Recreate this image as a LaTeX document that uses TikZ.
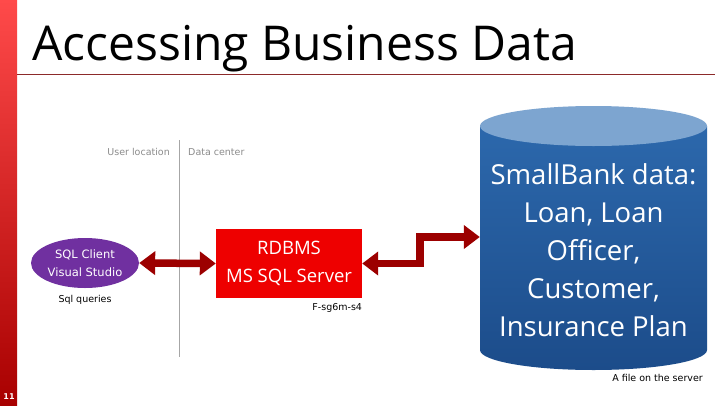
\documentclass[tikz,border=0pt]{standalone}
\usepackage{fontspec}
\setmainfont{Open Sans}
\newfontfamily\labelfont{DejaVu Sans}
\usetikzlibrary{positioning,arrows.meta,shapes.geometric}
\definecolor{BarTop}{HTML}{FF4A4A}
\definecolor{BarBottom}{HTML}{A80000}
\definecolor{RuleRed}{HTML}{8C2A2A}
\definecolor{ClientPurple}{HTML}{7030A0}
\definecolor{ServerRed}{HTML}{EE0000}
\definecolor{LinkRed}{HTML}{9C0000}
\definecolor{DbTop}{HTML}{7DA5D0}
\definecolor{DbLight}{HTML}{2C68AC}
\definecolor{DbDark}{HTML}{1C4C8A}
\definecolor{GuideGray}{HTML}{A6A6A6}
\definecolor{NoteGray}{HTML}{8C8C8C}

\begin{document}
\begin{tikzpicture}[x=1pt, y=-1pt,
  note/.style={font=\labelfont\fontsize{9.5}{11}\selectfont, inner sep=0pt},
  zone/.style={note, text=NoteGray},
  client/.style={ellipse, fill=ClientPurple, minimum width=108pt, minimum height=50pt, inner sep=0pt, align=center, text=white, font=\labelfont\fontsize{11.5}{18}\selectfont},
  server/.style={rectangle, fill=ServerRed, minimum width=146pt, minimum height=69pt, align=center, text=white, font=\fontsize{18.5}{28}\selectfont},
  store/.style={rectangle, minimum width=227pt, inner sep=0pt, align=center, text=white, font=\fontsize{27.5}{38}\selectfont},
  link/.style={{Triangle[length=16pt,width=23pt]}-{Triangle[length=16pt,width=23pt]}, line width=7.5pt, color=LinkRed}
]

  % Slide frame
  \useasboundingbox (0,0) rectangle (720,405);
  \fill[white] (0,0) rectangle (720,405);
  \shade[top color=BarTop, bottom color=BarBottom] (0,0) rectangle (17,405);
  \node[note, text=white, font=\labelfont\bfseries\fontsize{8}{9}\selectfont] (pagenum) at (9,397) {11};
  \node[anchor=base west, inner sep=0pt, font=\fontsize{48}{58}\selectfont] (title) at (32,60) {Accessing Business Data};
  \draw[RuleRed, line width=0.8pt] (17,74) -- (715,74);

  % Zones
  \draw[GuideGray] (179,140) -- (179,357);
  \node[zone, anchor=east] (userloc) at (170,152) {User location};
  \node[zone, anchor=west] (datacenter) at (188,152) {Data center};

  % Nodes
  \node[client] (client) at (85,263) {SQL Client\\Visual Studio};
  \node[note, below=7pt of client] (queries) {Sql queries};
  \node[server] (server) at (289,263.5) {RDBMS\\MS SQL Server};
  \node[note, below left=5pt and 0pt of server.south east] (host) {F-sg6m-s4};

  % Database cylinder
  \shade[top color=DbLight, bottom color=DbDark] (480,126) -- (480,350)
    arc[start angle=180, end angle=0, x radius=113.5, y radius=20] -- (707,126) -- cycle;
  \fill[DbTop] (593.5,126) ellipse[x radius=113.5, y radius=20];
  \node[store] (db) at (593.5,250) {SmallBank data:\\Loan, Loan\\Officer,\\Customer,\\Insurance Plan};
  \node[note, anchor=north east] (dbnote) at (703,374) {A file on the server};

  % Connections
  \draw[link] (client.east) -- (server.west);
  \draw[link] (server.east) -- ++(58,0) |- ([yshift=13pt]db.west);

\end{tikzpicture}
\end{document}
